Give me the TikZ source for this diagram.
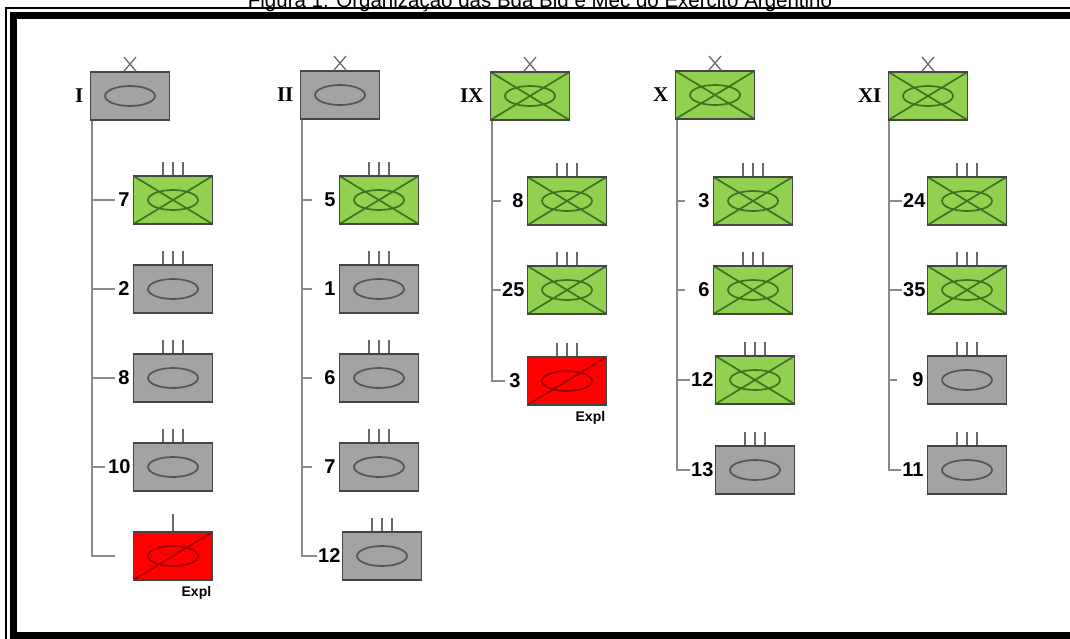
\documentclass[tikz,border=0pt]{standalone}
\usepackage{fontspec}
\setmainfont{Liberation Sans}
\newfontfamily\romfont{Liberation Serif}
\usetikzlibrary{positioning}
\definecolor{armgray}{HTML}{A3A3A3}
\definecolor{edgegray}{HTML}{454545}
\definecolor{ovalgray}{HTML}{555555}
\definecolor{linegray}{HTML}{8A8A8A}
\definecolor{mechgreen}{HTML}{92D050}
\definecolor{mechline}{HTML}{3A7420}
\definecolor{reconred}{HTML}{FF0000}
\definecolor{reconline}{HTML}{A00000}

\begin{document}
\begin{tikzpicture}[
    x=1pt, y=1pt,
    % --- unit symbols ---
    unit/.style={
      draw=edgegray, line width=1.8pt,
      minimum width=79pt, minimum height=48pt, inner sep=0pt},
    tank/.style={unit, fill=armgray,
      path picture={
        \draw[line width=1.7pt, ovalgray]
          (path picture bounding box.center) ellipse (25 and 10);}},
    mech/.style={unit, fill=mechgreen,
      path picture={
        \draw[line width=1.7pt, mechline]
          (path picture bounding box.center) ellipse (25 and 10)
          (path picture bounding box.south west) -- (path picture bounding box.north east)
          (path picture bounding box.north west) -- (path picture bounding box.south east);}},
    recon/.style={unit, fill=reconred,
      path picture={
        \draw[line width=1.7pt, reconline]
          (path picture bounding box.center) ellipse (25 and 10)
          (path picture bounding box.south west) -- (path picture bounding box.north east);}},
    % --- texts ---
    num/.style={font=\fontsize{20}{20}\selectfont\bfseries, inner sep=0pt},
    rom/.style={font=\romfont\fontsize{21}{21}\selectfont\bfseries, inner sep=0pt},
    expl/.style={font=\fontsize{14}{14}\selectfont\bfseries, inner sep=0pt},
    caption/.style={font=\fontsize{20.5}{20.5}\selectfont, inner sep=0pt},
    % --- lines ---
    trunk/.style={linegray, line width=1.8pt},
    echelon/.style={edgegray!80, line width=1.3pt},
  ]
  \useasboundingbox (0,0) rectangle (1070,-638);

  % ── Caption and frame ──
  \node[caption, anchor=base] (cap) at (540,-7)
    {Figura 1: Organização das Bda Bld e Mec do Exército Argentino};
  \draw[line width=1.2pt] (6,-8) rectangle (1100,-660);
  \draw[line width=7pt] (13,-15) rectangle (1100,-635);

  % ── Brigades (top row) ──
  \node[tank] (bI)  at (130,-96) {};
  \node[tank] (bII) at (340,-95) {};
  \node[mech] (bIX) at (530,-96) {};
  \node[mech] (bX)  at (715,-95) {};
  \node[mech] (bXI) at (928,-96) {};
  \node[rom, left=6pt of bI]  (rI)  {I};
  \node[rom, left=6pt of bII] (rII) {II};
  \node[rom, left=6pt of bIX] (rIX) {IX};
  \node[rom, left=6pt of bX]  (rX)  {X};
  \node[rom, left=6pt of bXI] (rXI) {XI};
  \foreach \b in {bI,bII,bIX,bX,bXI}
    \draw[echelon] ([xshift=-6pt]\b.north) -- ++(12,14)
                   ([xshift=6pt]\b.north) -- ++(-12,14);

  % ── I ──
  \node[mech]  (bI-1) at (173,-200) {};
  \node[tank]  (bI-2) at (173,-289) {};
  \node[tank]  (bI-3) at (173,-378) {};
  \node[tank]  (bI-4) at (173,-467) {};
  \node[recon] (bI-5) at (173,-556) {};
  \node[num, left=3pt of bI-1] (lI-1) {7};
  \node[num, left=3pt of bI-2] (lI-2) {2};
  \node[num, left=3pt of bI-3] (lI-3) {8};
  \node[num, left=2pt of bI-4] (lI-4) {10};
  \coordinate[left=18pt of bI-5] (eI);
  \node[expl, anchor=north east] (xI) at ([shift={(-2,-5)}]bI-5.south east) {Expl};

  % ── II ──
  \node[mech] (bII-1) at (379,-200) {};
  \node[tank] (bII-2) at (379,-289) {};
  \node[tank] (bII-3) at (379,-378) {};
  \node[tank] (bII-4) at (379,-467) {};
  \node[tank] (bII-5) at (382,-556) {};
  \node[num, left=3pt of bII-1] (lII-1) {5};
  \node[num, left=3pt of bII-2] (lII-2) {1};
  \node[num, left=3pt of bII-3] (lII-3) {6};
  \node[num, left=3pt of bII-4] (lII-4) {7};
  \node[num, left=1pt of bII-5] (lII-5) {12};

  % ── IX ──
  \node[mech]  (bIX-1) at (567,-201) {};
  \node[mech]  (bIX-2) at (567,-290) {};
  \node[recon] (bIX-3) at (567,-381) {};
  \node[num, left=3pt of bIX-1] (lIX-1) {8};
  \node[num, left=2pt of bIX-2] (lIX-2) {25};
  \node[num, left=6pt of bIX-3] (lIX-3) {3};
  \node[expl, anchor=north east] (xIX) at ([shift={(-2,-5)}]bIX-3.south east) {Expl};

  % ── X ──
  \node[mech] (bX-1) at (753,-201) {};
  \node[mech] (bX-2) at (753,-290) {};
  \node[mech] (bX-3) at (755,-380) {};
  \node[tank] (bX-4) at (755,-470) {};
  \node[num, left=3pt of bX-1] (lX-1) {3};
  \node[num, left=3pt of bX-2] (lX-2) {6};
  \node[num, left=1pt of bX-3] (lX-3) {12};
  \node[num, left=1pt of bX-4] (lX-4) {13};

  % ── XI ──
  \node[mech] (bXI-1) at (967,-201) {};
  \node[mech] (bXI-2) at (967,-290) {};
  \node[tank] (bXI-3) at (967,-380) {};
  \node[tank] (bXI-4) at (967,-470) {};
  \node[num, left=1pt of bXI-1] (lXI-1) {24};
  \node[num, left=1pt of bXI-2] (lXI-2) {35};
  \node[num, left=3pt of bXI-3] (lXI-3) {9};
  \node[num, left=3pt of bXI-4] (lXI-4) {11};

  % ── Regiment / squadron marks ──
  \foreach \u in {bI-1,bI-2,bI-3,bI-4,bII-1,bII-2,bII-3,bII-4,bII-5,
                  bIX-1,bIX-2,bIX-3,bX-1,bX-2,bX-3,bX-4,
                  bXI-1,bXI-2,bXI-3,bXI-4}
    \draw[echelon] ([xshift=-10pt]\u.north) -- ++(0,13)
                   (\u.north) -- ++(0,13)
                   ([xshift=10pt]\u.north) -- ++(0,13);
  \draw[echelon] (bI-5.north) -- ++(0,17);

  % ── Command lines ──
  \coordinate (tI)   at ([xshift=2pt]bI.south west);
  \coordinate (tII)  at ([xshift=2pt]bII.south west);
  \coordinate (tIX)  at ([xshift=2pt]bIX.south west);
  \coordinate (tX)   at ([xshift=2pt]bX.south west);
  \coordinate (tXI)  at ([xshift=1pt]bXI.south west);

  \draw[trunk] (tI) |- (eI);
  \foreach \k in {1,...,4}
    \draw[trunk] (tI |- lI-\k.west) -- ([xshift=-3pt]lI-\k.west);

  \draw[trunk] (tII) |- ([xshift=-1pt]lII-5.west);
  \foreach \k in {1,...,4}
    \draw[trunk] (tII |- lII-\k.west) -- ++(10,0);

  \draw[trunk] (tIX) |- ([xshift=-4pt]lIX-3.west);
  \draw[trunk] (tIX |- lIX-1.west) -- ++(9,0);
  \draw[trunk] (tIX |- lIX-2.west) -- ([xshift=-1pt]lIX-2.west);

  \draw[trunk] (tX) |- ([xshift=-1pt]lX-4.west);
  \foreach \k in {1,2}
    \draw[trunk] (tX |- lX-\k.west) -- ++(8,0);
  \draw[trunk] (tX |- lX-3.west) -- ([xshift=-1pt]lX-3.west);

  \draw[trunk] (tXI) |- ([xshift=-1pt]lXI-4.west);
  \foreach \k in {1,2}
    \draw[trunk] (tXI |- lXI-\k.west) -- ([xshift=-1pt]lXI-\k.west);
  \draw[trunk] (tXI |- lXI-3.west) -- ++(8,0);

\end{tikzpicture}
\end{document}
